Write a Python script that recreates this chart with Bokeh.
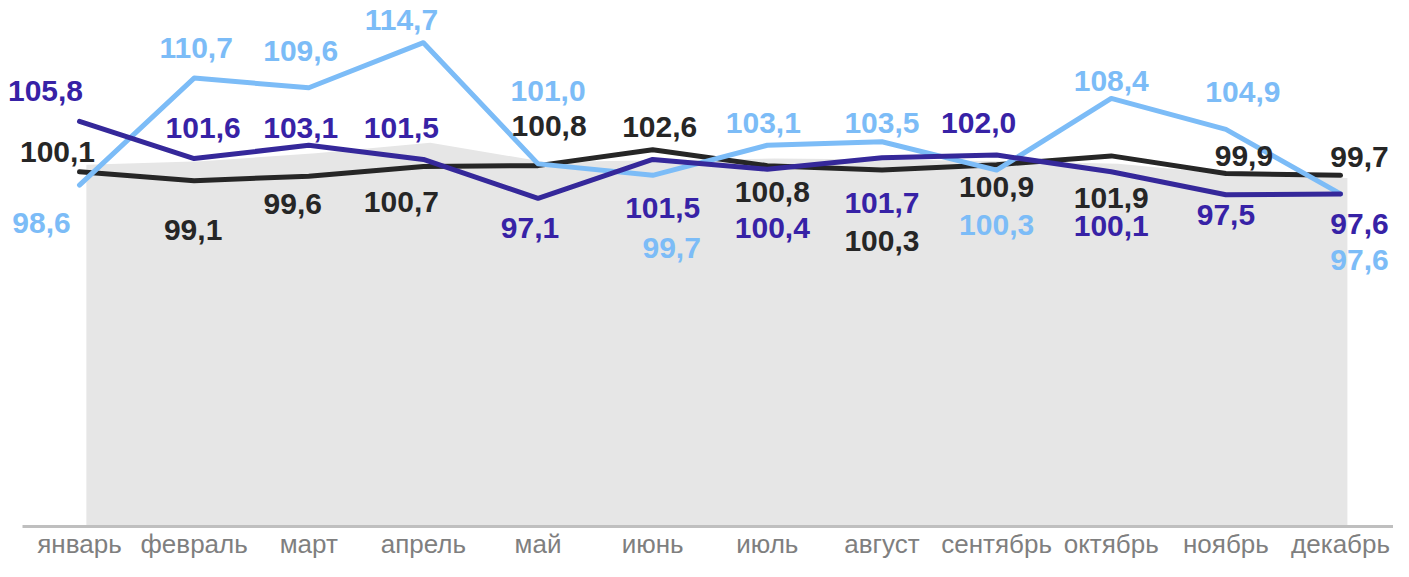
from bokeh.plotting import figure
from bokeh.models import ColumnDataSource, Range1d, FixedTicker
from bokeh.transform import dodge
from bokeh.embed import file_html
from bokeh.resources import INLINE
from bokeh.core.properties import value

months = ["январь", "февраль", "март", "апрель", "май", "июнь",
          "июль", "август", "сентябрь", "октябрь", "ноябрь", "декабрь"]
black_vals = [100.1, 99.1, 99.6, 100.7, 100.8, 102.6, 100.8, 100.3, 100.9, 101.9, 99.9, 99.7]
purple_vals = [105.8, 101.6, 103.1, 101.5, 97.1, 101.5, 100.4, 101.7, 102.0, 100.1, 97.5, 97.6]
blue_vals = [98.6, 110.7, 109.6, 114.7, 101.0, 99.7, 103.1, 103.5, 100.3, 108.4, 104.9, 97.6]
area_vals = [100.9, 101.3, 102.2, 103.4, 101.2, 101.4, 101.6, 101.5, 101.3, 101.0, 99.8, 99.4]

# label placement (screen px offsets from the point, +y = down)
black_dx = [-22, -1, -16, -22, 11, 7, 5, 0, 0, 0, 18, 19]
black_dy = [-20, 49, 28, 35, -40, -23, 26, 71, 22, 42, -18, -18]
purple_dx = [-34, 9, -8, -22, -8, 10, 5, 0, -18, 0, 0, 19]
purple_dy = [-30, -31, -17, -31, 30, 49, 59, 45, -32, 54, 20, 30]
blue_dx = [-38, 2, -8, -22, 10, 19, -4, 0, 0, 0, 17, 19]
blue_dy = [38, -30, -37, -23, -73, 73, -22, -19, 55, -17, -37, 66]

BLACK = "#262626"
PURPLE = "#35289a"
PURPLE_TXT = "#3722a6"
BLUE = "#7cbcf7"
GRAY = "#e6e6e6"


def fmt(v):
    return f"{v:.1f}".replace(".", ",")


xs = list(range(len(months)))
src = ColumnDataSource(dict(x=xs, black=black_vals, purple=purple_vals,
                            blue=blue_vals, area=area_vals))

p = figure(width=1393, height=561, x_range=Range1d(-0.689, 11.462),
           y_range=Range1d(60, 119.47), output_backend="svg", toolbar_location=None,
           y_axis_location=None, min_border_left=0, min_border_right=0,
           min_border_top=0, min_border_bottom=0)
p.outline_line_color = None
p.grid.visible = False
p.background_fill_color = "white"

p.varea(x=dodge("x", 0.06), y1=60, y2="area", source=src, fill_color=GRAY)

p.line(x="x", y="black", source=src, line_color=BLACK, line_width=5,
       line_cap="round", line_join="round")
p.line(x="x", y="blue", source=src, line_color=BLUE, line_width=5,
       line_cap="round", line_join="round")
p.line(x="x", y="purple", source=src, line_color=PURPLE, line_width=5,
       line_cap="round", line_join="round")

for vals, dx, dy, col in [(black_vals, black_dx, black_dy, BLACK),
                          (purple_vals, purple_dx, purple_dy, PURPLE_TXT),
                          (blue_vals, blue_dx, blue_dy, BLUE)]:
    ls = ColumnDataSource(dict(x=xs, v=vals, t=[fmt(v) for v in vals],
                               dx=dx, dy=dy))
    p.text(x="x", y="v", text="t", x_offset="dx", y_offset="dy", source=ls,
           text_color=col, text_font=value("Liberation Sans"), text_font_style="bold",
           text_font_size="30px", text_align="center", text_baseline="middle")

ax = p.xaxis[0]
ax.ticker = FixedTicker(ticks=xs)
ax.major_label_overrides = {i: m for i, m in zip(xs, months)}
ax.bounds = (-0.5, len(months) - 0.5)
ax.axis_line_color = "#bfbfbf"
ax.axis_line_width = 3
ax.major_tick_line_color = None
ax.major_tick_out = 0
ax.major_tick_in = 0
ax.minor_tick_line_color = None
ax.major_label_text_color = "#7f7f7f"
ax.major_label_text_font = "Liberation Sans"
ax.major_label_text_font_size = "26px"
ax.major_label_standoff = 2

open("out.html", "w").write(file_html(p, INLINE))
